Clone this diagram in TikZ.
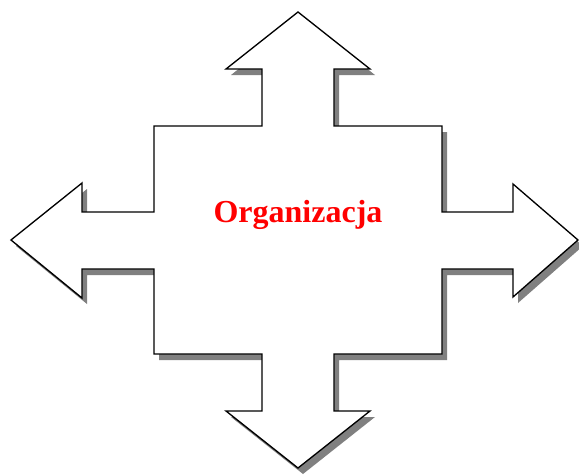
\documentclass[tikz,border=0pt]{standalone}
\usepackage{fontspec}
\setmainfont{Liberation Serif}
\usepackage{xcolor}
\usetikzlibrary{positioning}
\definecolor{shadowgray}{RGB}{128,128,128}
\definecolor{labelred}{RGB}{255,0,0}

\begin{document}
\begin{tikzpicture}[x=0.75pt,y=-0.75pt,
  outline/.style={draw=black,fill=white,line width=1pt,line join=miter},
  shade/.style={fill=shadowgray}]
\useasboundingbox (0,0) rectangle (579,475);
\def\crosspath{(298,12) -- (370,69) -- (334,69) -- (334,126) -- (442,126) -- (442,212)
  -- (513,212) -- (513,184) -- (578,240) -- (513,297) -- (513,269) -- (442,269)
  -- (442,354) -- (334,354) -- (334,411) -- (370,411) -- (298,468) -- (226,411)
  -- (262,411) -- (262,354) -- (154,354) -- (154,269) -- (82,269) -- (82,298)
  -- (11,240) -- (82,183) -- (82,212) -- (154,212) -- (154,126) -- (262,126)
  -- (262,69) -- (226,69) -- cycle}
% shadow, then the outline
\fill[shade,xshift=3.75pt,yshift=-4.5pt] \crosspath;
\draw[outline] \crosspath;
\node[text=labelred,font=\bfseries\fontsize{24}{28}\selectfont] (org) at (298,215) {Organizacja};
\end{tikzpicture}
\end{document}
